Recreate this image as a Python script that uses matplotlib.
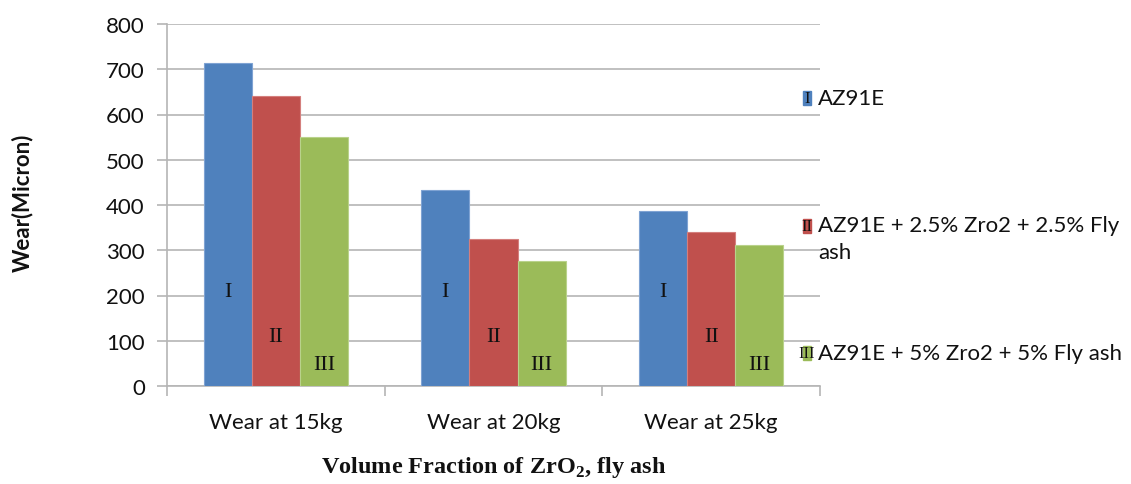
import matplotlib
matplotlib.use("Agg")
import matplotlib.pyplot as plt
from matplotlib.patches import Rectangle
import numpy as np

# data
categories = ["Wear at 15kg", "Wear at 20kg", "Wear at 25kg"]
series_names = ["AZ91E",
                "AZ91E + 2.5% Zro2 + 2.5% Fly\nash",
                "AZ91E + 5% Zro2 + 5% Fly ash"]
series_marks = ["I", "II", "III"]
az91e = [713, 433, 386]
az91e_25 = [641, 325, 340]
az91e_5 = [550, 277, 312]
mark_heights = [208, 110, 48]   # where the roman numerals sit inside the bars

colors = ["#4F81BD", "#C0504D", "#9BBB59"]
edge = ["#7FA3D3", "#D47F7D", "#B9D28B"]
grid_c = "#b5b5b5"
txt_c = "#111111"

plt.rcParams["font.family"] = ["Lato", "DejaVu Sans"]
plt.rcParams["mathtext.fontset"] = "custom"
plt.rcParams["mathtext.rm"] = "Liberation Serif"
plt.rcParams["mathtext.bf"] = "Liberation Serif:bold"

fig = plt.figure(figsize=(11.31, 4.85), dpi=100)
ax = fig.add_axes([167/1131, 98/485, 653/1131, 362/485])

x = np.arange(len(categories))
w = 0.221
all_series = [az91e, az91e_25, az91e_5]
for i, vals in enumerate(all_series):
    xs = x + (i - 1) * w
    ax.bar(xs, vals, width=w, color=colors[i], edgecolor=edge[i],
           linewidth=0.8, zorder=3)
    for xx in xs:
        ax.text(xx, mark_heights[i], series_marks[i], ha="center", va="center",
                family="Liberation Serif", fontsize=16, color=txt_c, zorder=4)

ax.set_xlim(-0.5, 2.5)
ax.set_ylim(0, 800)
ax.set_yticks(np.arange(0, 801, 100))
ax.yaxis.grid(True, color=grid_c, linewidth=1.2, zorder=0)
ax.set_axisbelow(True)

ax.set_xticks([-0.5, 0.5, 1.5, 2.5])
ax.set_xticklabels([])
ax.set_xticks(x, minor=True)
ax.set_xticklabels(categories, minor=True, fontsize=16, color=txt_c)
ax.tick_params(axis="x", which="minor", length=0, pad=19)
ax.tick_params(axis="x", which="major", length=7, color=grid_c, width=1.2)
ax.tick_params(axis="y", length=7, color=grid_c, width=1.2, labelsize=16,
               labelcolor=txt_c, pad=9)

for s in ["top", "right"]:
    ax.spines[s].set_visible(False)
for s in ["left", "bottom"]:
    ax.spines[s].set_color(grid_c)
    ax.spines[s].set_linewidth(1.2)

fig.text(22/1131, 1 - 203/485, "Wear(Micron)", rotation=90, ha="center",
         va="center", fontsize=16, fontweight="bold", color=txt_c)
fig.text(494/1131, 1 - 468/485, r"Volume Fraction of ZrO$_{\mathbf{2}}$, fly ash",
         ha="center", va="center", family="Liberation Serif", fontsize=17.5,
         fontweight="bold", color=txt_c)

# legend drawn by hand
leg_y = [99, 227, 354]
for i in range(3):
    yf = 1 - leg_y[i] / 485
    fig.patches.append(Rectangle((803/1131, yf - 7/485), 8/1131, 14/485,
                                 transform=fig.transFigure, color=colors[i]))
    fig.text(807/1131, yf, series_marks[i], ha="center", va="center",
             family="Liberation Serif", fontsize=12, color=txt_c)
    if i == 1:
        fig.text(818/1131, yf + 11/485, series_names[i], ha="left", va="top",
                 fontsize=16, color=txt_c, linespacing=1.45)
    else:
        fig.text(818/1131, yf, series_names[i], ha="left", va="center",
                 fontsize=16, color=txt_c)

fig.savefig("out.png", dpi=100)
